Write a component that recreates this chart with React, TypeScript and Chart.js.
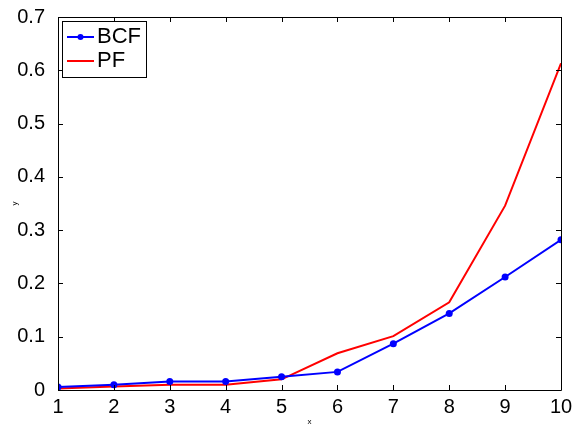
import React, { useEffect, useRef } from "react";
import { Chart, registerables } from "chart.js";

Chart.register(...registerables);

const xValues = [1, 2, 3, 4, 5, 6, 7, 8, 9, 10];
const bcfValues = [0.0055, 0.0098, 0.016, 0.016, 0.025, 0.034, 0.087, 0.1437, 0.212, 0.282];
const pfValues = [0.003, 0.0065, 0.0098, 0.010, 0.020, 0.069, 0.101, 0.1645, 0.346, 0.613];
const seriesNames = ["BCF", "PF"];
const seriesColors = ["#0000ff", "#ff0000"];
const xTicks = [1, 2, 3, 4, 5, 6, 7, 8, 9, 10];
const yTicks = [0, 0.1, 0.2, 0.3, 0.4, 0.5, 0.6, 0.7];

const FONT = "'Liberation Sans', Arial, Helvetica, sans-serif";

const boxPlugin = {
  id: "matlabBox",
  afterDraw(chart: any) {
    const { ctx, chartArea } = chart;
    const { left, right, top, bottom } = chartArea;
    const xs = chart.scales.x;
    const ys = chart.scales.y;
    ctx.save();
    ctx.strokeStyle = "#000";
    ctx.lineWidth = 1;
    ctx.beginPath();
    ctx.rect(left + 0.5, top + 0.5, right - left, bottom - top);
    ctx.stroke();
    const tl = 5;
    ctx.beginPath();
    for (const v of xTicks) {
      const px = Math.round(xs.getPixelForValue(v)) + 0.5;
      ctx.moveTo(px, bottom);
      ctx.lineTo(px, bottom - tl);
      ctx.moveTo(px, top);
      ctx.lineTo(px, top + tl);
    }
    for (const v of yTicks) {
      const py = Math.round(ys.getPixelForValue(v)) + 0.5;
      ctx.moveTo(left, py);
      ctx.lineTo(left + tl, py);
      ctx.moveTo(right, py);
      ctx.lineTo(right - tl, py);
    }
    ctx.stroke();

    // legend
    const lx = left + 4;
    const ly = top + 4;
    const lw = 84;
    const lh = 56;
    ctx.fillStyle = "#fff";
    ctx.fillRect(lx, ly, lw, lh);
    ctx.strokeStyle = "#000";
    ctx.strokeRect(lx + 0.5, ly + 0.5, lw, lh);
    ctx.font = `22px ${FONT}`;
    ctx.textBaseline = "middle";
    ctx.textAlign = "left";
    seriesNames.forEach((name, i) => {
      const cy = ly + 16 + i * 24;
      ctx.strokeStyle = seriesColors[i];
      ctx.lineWidth = 2;
      ctx.beginPath();
      ctx.moveTo(lx + 5, cy);
      ctx.lineTo(lx + 32, cy);
      ctx.stroke();
      if (i === 0) {
        ctx.fillStyle = seriesColors[i];
        ctx.beginPath();
        ctx.arc(lx + 18.5, cy, 3, 0, Math.PI * 2);
        ctx.fill();
      }
      ctx.fillStyle = "#000";
      ctx.fillText(name, lx + 35, cy);
    });
    ctx.restore();
  },
};

export default function App() {
  const ref = useRef<HTMLCanvasElement>(null);
  useEffect(() => {
    if (!ref.current) return;
    const chart = new Chart(ref.current, {
      type: "line",
      data: {
        datasets: [
          {
            label: seriesNames[0],
            data: xValues.map((x, i) => ({ x, y: bcfValues[i] })),
            borderColor: seriesColors[0],
            backgroundColor: seriesColors[0],
            borderWidth: 2,
            pointRadius: 3.5,
            pointBorderWidth: 0,
            tension: 0,
          },
          {
            label: seriesNames[1],
            data: xValues.map((x, i) => ({ x, y: pfValues[i] })),
            borderColor: seriesColors[1],
            backgroundColor: seriesColors[1],
            borderWidth: 2,
            pointRadius: 0,
            tension: 0,
          },
        ],
      },
      options: {
        animation: false,
        responsive: false,
        maintainAspectRatio: false,
        layout: { padding: { top: 10, right: 26, left: 0, bottom: 0 } },
        plugins: { legend: { display: false }, tooltip: { enabled: false } },
        scales: {
          x: {
            type: "linear",
            min: 1,
            max: 10,
            grid: { display: false },
            border: { display: false },
            afterBuildTicks: (s: any) => {
              s.ticks = xTicks.map((v) => ({ value: v }));
            },
            afterFit: (s: any) => {
              s.height = 37;
            },
            ticks: {
              color: "#000",
              font: { family: FONT, size: 20 },
              padding: -3,
              maxRotation: 0,
              autoSkip: false,
            },
            title: {
              display: true,
              text: "x",
              color: "#000",
              font: { family: FONT, size: 8 },
              padding: { top: 0, bottom: 0 },
            },
          },
          y: {
            type: "linear",
            min: 0,
            max: 0.7,
            grid: { display: false },
            border: { display: false },
            afterBuildTicks: (s: any) => {
              s.ticks = yTicks.map((v) => ({ value: v }));
            },
            afterFit: (s: any) => {
              s.width = 58;
            },
            ticks: {
              color: "#000",
              font: { family: FONT, size: 20 },
              padding: 5,
              autoSkip: false,
              callback: (v: any) => String(Math.round(Number(v) * 10) / 10),
            },
            title: {
              display: true,
              text: "y",
              color: "#000",
              font: { family: FONT, size: 8 },
              padding: { top: 10, bottom: 0 },
            },
          },
        },
      },
      plugins: [boxPlugin],
    });
    return () => chart.destroy();
  }, []);
  return (
    <div style={{ position: "fixed", left: 0, top: 0, width: 587, height: 427, background: "#fff" }}>
      <canvas ref={ref} width={587} height={427} style={{ width: 587, height: 427 }} />
    </div>
  );
}
